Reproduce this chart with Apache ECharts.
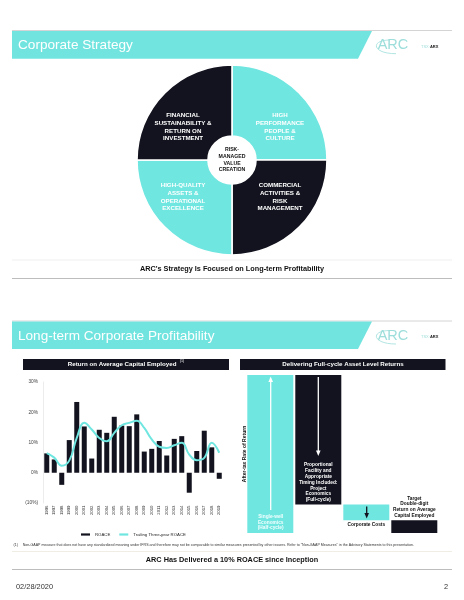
<!DOCTYPE html>
<html><head><meta charset="utf-8">
<script src="https://cdn.jsdelivr.net/npm/echarts@6/dist/echarts.min.js"></script>
<style>html,body{margin:0;padding:0;background:#fff}#c{width:464px;height:600px}</style>
</head><body><div id="c"></div>
<script>
// ---------- data ----------
const years = ['1996','1997','1998','1999','2000','2001','2002','2003','2004','2005','2006','2007','2008','2009','2010','2011','2012','2013','2014','2015','2016','2017','2018','2019'];
const roace = [6.4, 4.4, -4.0, 10.8, 23.4, 15.3, 4.7, 14.2, 13.2, 18.5, 15.6, 15.4, 19.3, 7.0, 7.9, 10.5, 5.7, 11.2, 12.1, -6.6, 7.2, 13.9, 8.4, -2.0];
const trailing = [6.5, 5.0, 2.3, 4.0, 11.5, 16.5, 14.3, 11.5, 10.4, 13.2, 15.7, 16.5, 17.2, 14.8, 11.0, 8.6, 8.2, 9.1, 9.9, 6.0, 4.1, 4.9, 9.9, 6.6];
const yMin = -10, yMax = 30, yStep = 10;
const pillarNames = ['HIGH\nPERFORMANCE\nPEOPLE &\nCULTURE', 'COMMERCIAL\nACTIVITIES &\nRISK\nMANAGEMENT', 'HIGH-QUALITY\nASSETS &\nOPERATIONAL\nEXCELLENCE', 'FINANCIAL\nSUSTAINABILITY &\nRETURN ON\nINVESTMENT'];
const pillarShares = [1, 1, 1, 1];
const centreLabel = 'RISK-\nMANAGED\nVALUE\nCREATION';
const wfCategories = ['Single-well\nEconomics\n(Half-cycle)', 'Proportional\nFacility and\nAppropriate\nTiming Included:\nProject\nEconomics\n(Full-cycle)', 'Corporate Costs', 'Target\nDouble-digit\nReturn on Average\nCapital Employed'];
const wfBase = [0, 18, 8, 0];
const wfValue = [100, 82, 10, 8];

// ---------- style ----------
const TEAL = '#6fe6e0', DARK = '#12131e';
const FONT = '"Liberation Sans", Arial, sans-serif';
const pillarColors = [TEAL, DARK, TEAL, DARK];
const wfColors = [TEAL, DARK, TEAL, DARK];

const chart = echarts.init(document.getElementById('c'), null, {renderer: 'canvas'});

function txt(x, y, text, size, opts) {
  opts = opts || {};
  return {
    type: 'text', x: x, y: y, rotation: opts.rotation || 0, z: 50,
    style: {
      text: text, fill: opts.fill || '#111', fontFamily: FONT,
      fontSize: size, fontWeight: opts.bold ? 'bold' : 'normal',
      align: opts.align || 'center', verticalAlign: opts.va || 'middle',
      lineHeight: opts.lh || size * 1.2, rich: opts.rich
    }
  };
}
function hline(y, x1, x2, color, w) {
  return {type: 'line', shape: {x1: x1, y1: y, x2: x2, y2: y}, style: {stroke: color, lineWidth: w || 1}};
}
function header(yTop, yBot, title) {
  return [
    hline(yTop - 0.5, 12, 452, '#d4d4d4', 1),
    {type: 'polygon', shape: {points: [[12, yTop], [372, yTop], [358, yBot], [12, yBot]]}, style: {fill: '#72e4df'}},
    txt(18, (yTop + yBot) / 2 + 0.5, title, 13.6, {fill: '#fff', align: 'left'}),
    txt(393, (yTop + yBot) / 2 + 0.5, 'ARC', 14.5, {fill: '#9ddedb', align: 'center'}),
    {type: 'bezierCurve', shape: {x1: 390, y1: yTop + 9, cpx1: 370, cpy1: yTop + 9, cpx2: 372, cpy2: yBot - 5, x2: 396, y2: yBot - 5}, style: {stroke: '#9ddedb', lineWidth: 0.8, fill: null}},
    {type: 'text', x: 421, y: (yTop + yBot) / 2 + 2, style: {text: '{a|TSX:}{b|ARX}', verticalAlign: 'middle', rich: {a: {fontSize: 4, fill: '#9ddedb', fontFamily: FONT}, b: {fontSize: 4, fontWeight: 'bold', fill: '#222', fontFamily: FONT}}}}
  ];
}

const g = [];
g.push(...header(31, 58.7, 'Corporate Strategy'));
g.push(...header(321.5, 349, 'Long-term Corporate Profitability'));

// pie labels
const qx = [280, 280, 183, 183], qy = [127, 197, 197, 127];
pillarNames.forEach((n, i) => g.push(txt(qx[i], qy[i], n, 6.2, {fill: '#fff', bold: true, lh: 7.6})));
g.push(txt(232, 160, centreLabel, 5.2, {fill: '#111', bold: true, lh: 6.7}));

// slide 1 caption
g.push(hline(260, 12, 452, '#efefef', 1));
g.push(txt(232, 268.5, "ARC's Strategy Is Focused on Long-term Profitability", 7.3, {bold: true}));
g.push(hline(278.5, 12, 452, '#bdbdbd', 1));

// section headers slide 2
g.push({type: 'rect', shape: {x: 23, y: 359, width: 206, height: 11}, style: {fill: DARK}});
g.push({type: 'text', x: 126, y: 364.7, z: 50, style: {text: '{a|Return on Average Capital Employed} {s|(1)}', align: 'center', verticalAlign: 'middle',
  rich: {a: {fontSize: 6.2, fontWeight: 'bold', fill: '#fff', fontFamily: FONT}, s: {fontSize: 3.6, fill: '#fff', fontFamily: FONT, verticalAlign: 'top', padding: [0, 0, 3, 0]}}}});
g.push({type: 'rect', shape: {x: 240, y: 359, width: 205.5, height: 11}, style: {fill: DARK}});
g.push(txt(343, 364.7, 'Delivering Full-cycle Asset Level Returns', 6.2, {fill: '#fff', bold: true}));

// waterfall annotations
g.push(txt(244.3, 454, 'After-tax Rate of Return', 5, {bold: true, rotation: Math.PI / 2}));
function arrow(x, yFrom, yTo, color) {
  const dir = yTo < yFrom ? -1 : 1;
  return [
    {type: 'line', z: 40, shape: {x1: x, y1: yFrom, x2: x, y2: yTo - dir * 4}, style: {stroke: color, lineWidth: 1.3}},
    {type: 'polygon', z: 40, shape: {points: [[x, yTo], [x - 2.3, yTo - dir * 5.5], [x + 2.3, yTo - dir * 5.5]]}, style: {fill: color}}
  ];
}
g.push(...arrow(270.7, 510, 376.5, '#fff'));
g.push(...arrow(318.3, 377, 456, '#fff'));
g.push(...arrow(366.7, 506.5, 518.5, DARK));
g.push(txt(270.7, 522.3, wfCategories[0], 4.8, {fill: '#f2ffff', bold: true, lh: 5.8}));
g.push(txt(318.3, 482.5, wfCategories[1], 4.8, {fill: '#fff', bold: true, lh: 5.8}));
g.push(txt(366.3, 525, wfCategories[2], 4.8, {bold: true}));
g.push(txt(414.3, 507, wfCategories[3], 4.8, {bold: true, lh: 5.8}));

// footnote
g.push(txt(13.5, 544.5, '(1)', 3.6, {align: 'left', fill: '#333'}));
g.push(txt(22.7, 544.5, 'Non-GAAP measure that does not have any standardized meaning under IFRS and therefore may not be comparable to similar measures presented by other issuers. Refer to "Non-GAAP Measures" in the Advisory Statements to this presentation.', 3.6, {align: 'left', fill: '#333'}));

// slide 2 caption
g.push(hline(551.5, 12, 452, '#f0ede4', 1));
g.push(txt(232, 560.3, 'ARC Has Delivered a 10% ROACE since Inception', 7.3, {bold: true}));
g.push(hline(569.5, 12, 452, '#bdbdbd', 1));

// footer
g.push(txt(16, 587, '02/28/2020', 7.4, {align: 'left', fill: '#333'}));
g.push(txt(448, 587, '2', 7.4, {align: 'right', fill: '#333'}));

const option = {
  animation: false,
  backgroundColor: '#fff',
  textStyle: {fontFamily: FONT},
  grid: [
    {left: 43, top: 382, width: 180, height: 121},
    {left: 246.3, top: 375, width: 192, height: 158}
  ],
  legend: {
    left: 76, top: 527.5, itemWidth: 9, itemHeight: 2.2, itemGap: 9,
    textStyle: {fontSize: 4.3, color: '#222', fontFamily: FONT},
    data: [{name: 'ROACE', icon: 'rect'}, {name: 'Trailing Three-year ROACE', icon: 'rect'}]
  },
  xAxis: [
    {type: 'category', gridIndex: 0, data: years, boundaryGap: true,
     axisLine: {show: false, onZero: false}, axisTick: {show: false},
     axisLabel: {rotate: 90, fontSize: 4.3, color: '#333', margin: 2.5, interval: 0}},
    {type: 'category', gridIndex: 1, data: wfCategories, show: false}
  ],
  yAxis: [
    {type: 'value', gridIndex: 0, min: yMin, max: yMax, interval: yStep,
     axisLine: {show: true, lineStyle: {color: '#ececec', width: 1}}, axisTick: {show: false}, splitLine: {show: false},
     axisLabel: {fontSize: 4.8, color: '#444', margin: 5, formatter: v => v < 0 ? '(' + Math.abs(v) + '%)' : v + '%'}},
    {type: 'value', gridIndex: 1, min: 0, max: 100, show: false}
  ],
  series: [
    {type: 'pie', name: 'strategy', center: [232, 160], radius: [24, 95], startAngle: 90, clockwise: true, silent: true,
     label: {show: false}, labelLine: {show: false},
     itemStyle: {borderColor: '#fff', borderWidth: 1.6},
     data: pillarShares.map((v, i) => ({name: pillarNames[i], value: v, itemStyle: {color: pillarColors[i]}}))},
    {type: 'bar', name: 'ROACE', xAxisIndex: 0, yAxisIndex: 0, data: roace, barWidth: 5, itemStyle: {color: DARK}, z: 2},
    {type: 'line', name: 'Trailing Three-year ROACE', xAxisIndex: 0, yAxisIndex: 0, data: trailing, smooth: 0.45, symbol: 'none',
     lineStyle: {width: 2, color: TEAL}, itemStyle: {color: TEAL}, z: 3},
    {type: 'bar', name: 'wfBase', xAxisIndex: 1, yAxisIndex: 1, stack: 'wf', data: wfBase, barWidth: 46, itemStyle: {color: 'transparent'}, silent: true},
    {type: 'bar', name: 'wfValue', xAxisIndex: 1, yAxisIndex: 1, stack: 'wf', barWidth: 46, silent: true,
     data: wfValue.map((v, i) => ({value: v, itemStyle: {color: wfColors[i]}}))}
  ],
  graphic: g
};
chart.setOption(option);
</script>
</body></html>
